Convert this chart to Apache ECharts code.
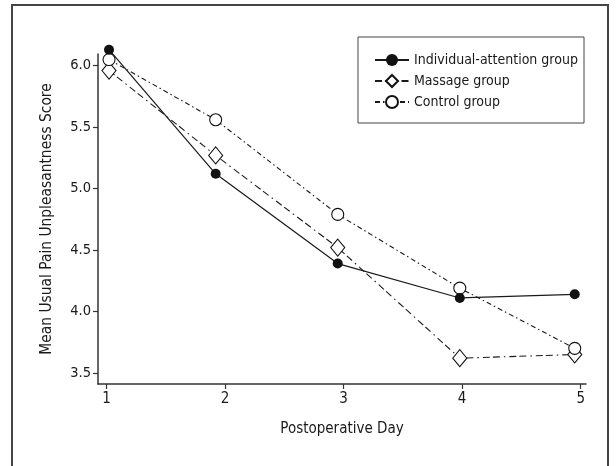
<!DOCTYPE html>
<html>
<head>
<meta charset="utf-8">
<script src="https://cdn.jsdelivr.net/npm/echarts@6/dist/echarts.min.js"></script>
<style>
  html, body { margin: 0; padding: 0; background: #fff; }
  #chart { width: 616px; height: 466px; }
</style>
</head>
<body>
<div id="chart"></div>
<script>
// x positions of the points (slightly jittered in the original figure)
var days = [1.02, 1.92, 2.95, 3.98, 4.95];
var dayTicks = [1, 2, 3, 4, 5];
var scoreTicks = [3.5, 4.0, 4.5, 5.0, 5.5, 6.0];

var individualGroup = [6.13, 5.12, 4.39, 4.11, 4.14];
var massageGroup = [5.96, 5.27, 4.52, 3.62, 3.65];
var controlGroup = [6.05, 5.56, 4.79, 4.19, 3.70];

var FONT = "'Liberation Sans Narrow', 'DejaVu Sans Condensed', 'Liberation Sans', sans-serif";
var INK = "#1a1a1a";

function pairs(vals) {
  return days.map(function (d, i) {
    return [d, vals[i]];
  });
}

var chart = echarts.init(document.getElementById("chart"));

var option = {
  animation: false,
  backgroundColor: "#fff",
  textStyle: { fontFamily: FONT, color: INK },
  grid: {
    left: 98,
    top: 54,
    right: 30,
    bottom: 82
  },
  graphic: [
    {
      // outer frame (open at the bottom)
      type: "rect",
      shape: { x: 12, y: 5, width: 596, height: 490 },
      style: { fill: null, stroke: "#444", lineWidth: 2 },
      silent: true
    },
    {
      // legend box
      type: "rect",
      shape: { x: 358, y: 37, width: 226, height: 86 },
      style: { fill: "#fff", stroke: "#444", lineWidth: 1 },
      silent: true,
      z: 1
    }
  ],
  legend: {
    orient: "vertical",
    left: 369,
    top: 48,
    itemWidth: 34,
    itemHeight: 15,
    itemGap: 7,
    z: 5,
    textStyle: { fontFamily: FONT, fontSize: 14, color: INK },
    data: ["Individual-attention group", "Massage group", "Control group"]
  },
  xAxis: {
    type: "value",
    min: 0.927,
    max: 5.045,
    name: "Postoperative Day",
    nameLocation: "middle",
    nameGap: 38,
    nameTextStyle: { fontFamily: FONT, fontSize: 15, color: INK },
    axisLine: { lineStyle: { color: "#333", width: 1.5 } },
    axisTick: {
      customValues: dayTicks,
      length: 5,
      lineStyle: { color: "#333", width: 1.2 }
    },
    axisLabel: {
      customValues: dayTicks,
      margin: 8,
      fontFamily: FONT,
      fontSize: 15,
      color: INK
    },
    splitLine: { show: false }
  },
  yAxis: {
    type: "value",
    min: 3.41,
    max: 6.095,
    name: "Mean Usual Pain Unpleasantness Score",
    nameLocation: "middle",
    nameGap: 44,
    nameTextStyle: { fontFamily: FONT, fontSize: 15.4, color: INK },
    axisLine: { show: true, lineStyle: { color: "#333", width: 1.5 } },
    axisTick: {
      show: true,
      customValues: scoreTicks,
      length: 5,
      lineStyle: { color: "#333", width: 1.2 }
    },
    axisLabel: {
      customValues: scoreTicks,
      margin: 7,
      fontFamily: FONT,
      fontSize: 14.5,
      color: INK,
      formatter: function (v) {
        return v.toFixed(1);
      }
    },
    splitLine: { show: false }
  },
  series: [
    {
      name: "Individual-attention group",
      type: "line",
      data: pairs(individualGroup),
      clip: false,
      symbol: "circle",
      symbolSize: 10,
      lineStyle: { color: INK, width: 1.2, type: "solid" },
      itemStyle: { color: "#111", borderColor: "#111", borderWidth: 0 },
      emphasis: { disabled: true },
      z: 4
    },
    {
      name: "Massage group",
      type: "line",
      data: pairs(massageGroup),
      clip: false,
      symbol: "diamond",
      symbolSize: [14, 17],
      lineStyle: { color: INK, width: 1.1, type: [7, 3, 7, 4, 1.5, 4] },
      itemStyle: { color: "#fff", borderColor: "#111", borderWidth: 1.1 },
      emphasis: { disabled: true },
      z: 3
    },
    {
      name: "Control group",
      type: "line",
      data: pairs(controlGroup),
      clip: false,
      symbol: "circle",
      symbolSize: 12,
      lineStyle: { color: INK, width: 1.1, type: [5, 3, 1.5, 3] },
      itemStyle: { color: "#fff", borderColor: "#111", borderWidth: 1.1 },
      emphasis: { disabled: true },
      z: 3
    }
  ]
};

chart.setOption(option);
</script>
</body>
</html>
